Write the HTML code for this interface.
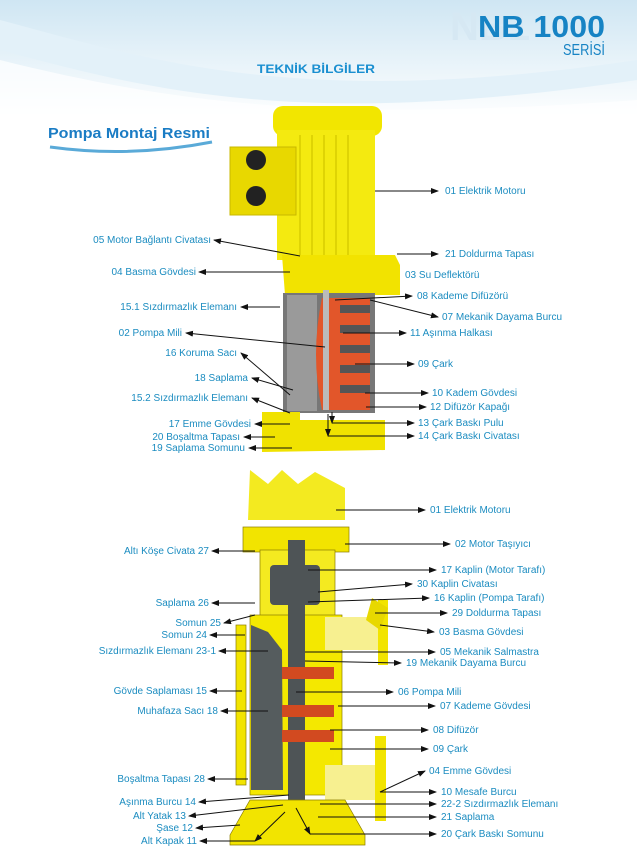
<!DOCTYPE html>
<html><head><meta charset="utf-8"><style>
body{margin:0;width:637px;height:851px;overflow:hidden;background:#fff;font-family:"Liberation Sans",sans-serif}
svg{display:block}
.l{font-family:"Liberation Sans",sans-serif;font-size:10px;fill:#1b8cc0}
</style></head><body>
<svg width="637" height="851" viewBox="0 0 637 851" xmlns="http://www.w3.org/2000/svg">
<defs>
<linearGradient id="bg" x1="0" y1="0" x2="0" y2="1"><stop offset="0" stop-color="#cfe6f3"/><stop offset="1" stop-color="#fff"/></linearGradient>
<marker id="a" markerWidth="8" markerHeight="6" refX="7" refY="3" orient="auto"><path d="M0,0L8,3L0,6z" fill="#111"/></marker>
</defs>
<rect width="637" height="120" fill="url(#bg)"/>
<path d="M0,20 C150,60 300,110 637,60 L637,80 C300,130 150,90 0,50z" fill="#e3f1f9"/>
<path d="M0,60 C200,110 350,120 637,100 L637,120 L0,120z" fill="#fff" opacity=".7"/>
<text x="450" y="40" font-size="40" font-weight="bold" fill="#d6e8f3" font-family="Liberation Sans">NB1</text>
<text x="478" y="37" font-size="31" font-weight="bold" fill="#1683c4" font-family="Liberation Sans" textLength="127" lengthAdjust="spacingAndGlyphs">NB 1000</text>
<text x="563" y="55" font-size="16" fill="#1683c4" font-family="Liberation Sans" textLength="42" lengthAdjust="spacingAndGlyphs">SERİSİ</text>
<text x="257" y="73" font-size="12" font-weight="bold" fill="#1a8fd0" font-family="Liberation Sans" textLength="118" lengthAdjust="spacingAndGlyphs">TEKNİK BİLGİLER</text>
<text x="48" y="138" font-size="15" font-weight="bold" fill="#1a7cc4" font-family="Liberation Sans" textLength="162" lengthAdjust="spacingAndGlyphs">Pompa Montaj Resmi</text>
<path d="M50,147 Q130,158 212,142" stroke="#5aaad8" stroke-width="3" fill="none"/>

<!-- top pump -->
<rect x="273" y="106" width="109" height="30" rx="10" fill="#f2e600"/>
<rect x="277" y="130" width="98" height="130" fill="#f4ea10"/>
<g stroke="#d8cc00" stroke-width="1.5"><line x1="300" y1="135" x2="300" y2="255"/><line x1="312" y1="135" x2="312" y2="255"/><line x1="324" y1="135" x2="324" y2="255"/><line x1="336" y1="135" x2="336" y2="255"/><line x1="348" y1="135" x2="348" y2="255"/></g>
<rect x="230" y="147" width="66" height="68" fill="#e8d800" stroke="#c8b800"/>
<circle cx="256" cy="160" r="10" fill="#222"/><circle cx="256" cy="196" r="10" fill="#222"/>
<path d="M282,255 L395,255 L400,265 L400,295 L285,295z" fill="#f2e300"/>
<rect x="283" y="293" width="92" height="120" fill="#777"/>
<rect x="287" y="295" width="30" height="116" fill="#9a9a9a"/>
<path d="M322,298 L370,298 L370,410 L322,410 Q310,355 322,298z" fill="#e2562a"/>
<g fill="#555"><rect x="340" y="305" width="30" height="8"/><rect x="340" y="325" width="30" height="8"/><rect x="340" y="345" width="30" height="8"/><rect x="340" y="365" width="30" height="8"/><rect x="340" y="385" width="30" height="8"/></g>
<rect x="323" y="290" width="6" height="120" fill="#bbb"/>
<path d="M262,412 L300,412 L300,420 L385,420 L385,450 L262,452z" fill="#f0e200"/>

<!-- bottom pump -->
<path d="M250,470 L268,484 L282,470 L298,484 L315,472 L345,488 L345,520 L248,520z" fill="#f3ea20"/>
<rect x="243" y="527" width="106" height="25" fill="#f2e400" stroke="#8a7c00" stroke-width=".7"/>
<rect x="260" y="550" width="75" height="67" fill="#f4ea20" stroke="#8a7c00" stroke-width=".7"/>
<rect x="250" y="615" width="92" height="180" fill="#f4e800" stroke="#8a7c00" stroke-width=".7"/>
<path d="M251,625 L268,632 L282,650 L283,790 L251,790z" fill="#555c5e"/>
<rect x="325" y="617" width="58" height="33" fill="#f7f090"/>
<rect x="378" y="600" width="10" height="65" fill="#f2e400"/>
<path d="M372,598 L388,608 L380,630 L366,620z" fill="#e8d800"/>
<rect x="325" y="765" width="55" height="35" fill="#f7f090"/>
<rect x="375" y="736" width="11" height="85" fill="#f2e400"/>
<rect x="236" y="625" width="10" height="160" fill="#f2e400" stroke="#8a7c00" stroke-width=".7"/>
<rect x="270" y="565" width="50" height="40" rx="4" fill="#4e5456"/>
<rect x="288" y="540" width="17" height="262" fill="#4e5456"/>
<rect x="282" y="667" width="52" height="12" fill="#d24a20"/><rect x="282" y="705" width="52" height="12" fill="#d24a20"/><rect x="282" y="730" width="52" height="12" fill="#d24a20"/>
<path d="M230,835 L250,800 L345,800 L365,835 L365,845 L230,845z" fill="#f2e400" stroke="#8a7c00" stroke-width=".7"/>

<g stroke="#111" stroke-width="1" fill="none" marker-end="url(#a)">
<line x1="300" y1="256" x2="214" y2="240"/>
<line x1="290" y1="272" x2="199" y2="272"/>
<line x1="280" y1="307" x2="241" y2="307"/>
<line x1="325" y1="347" x2="186" y2="333"/>
<line x1="290" y1="395" x2="241" y2="353"/>
<line x1="293" y1="390" x2="252" y2="378"/>
<line x1="290" y1="413" x2="252" y2="398"/>
<line x1="290" y1="424" x2="255" y2="424"/>
<line x1="275" y1="437" x2="244" y2="437"/>
<line x1="292" y1="448" x2="249" y2="448"/>
<line x1="375" y1="191" x2="438" y2="191"/>
<line x1="397" y1="254" x2="438" y2="254"/>
<line x1="335" y1="300" x2="412" y2="296"/>
<line x1="370" y1="300" x2="438" y2="317"/>
<line x1="343" y1="333" x2="406" y2="333"/>
<line x1="355" y1="364" x2="414" y2="364"/>
<line x1="365" y1="393" x2="428" y2="393"/>
<line x1="366" y1="407" x2="426" y2="407"/>
<line x1="332" y1="412" x2="332" y2="423" /><line x1="332" y1="423" x2="414" y2="423"/>
<line x1="328" y1="414" x2="328" y2="436" /><line x1="328" y1="436" x2="414" y2="436"/>
<line x1="336" y1="510" x2="425" y2="510"/>
<line x1="345" y1="544" x2="450" y2="544"/>
<line x1="308" y1="570" x2="436" y2="570"/>
<line x1="318" y1="592" x2="412" y2="584"/>
<line x1="308" y1="602" x2="429" y2="598"/>
<line x1="375" y1="613" x2="447" y2="613"/>
<line x1="380" y1="625" x2="434" y2="632"/>
<line x1="305" y1="652" x2="435" y2="652"/>
<line x1="305" y1="661" x2="401" y2="663"/>
<line x1="296" y1="692" x2="393" y2="692"/>
<line x1="338" y1="706" x2="435" y2="706"/>
<line x1="330" y1="730" x2="428" y2="730"/>
<line x1="330" y1="749" x2="428" y2="749"/>
<line x1="380" y1="792" x2="425" y2="771"/>
<line x1="380" y1="792" x2="436" y2="792"/>
<line x1="320" y1="804" x2="436" y2="804"/>
<line x1="318" y1="817" x2="436" y2="817"/>
<line x1="296" y1="808" x2="310" y2="834"/><line x1="310" y1="834" x2="436" y2="834"/>
<line x1="255" y1="551" x2="212" y2="551"/>
<line x1="255" y1="603" x2="212" y2="603"/>
<line x1="255" y1="615" x2="224" y2="623"/>
<line x1="245" y1="635" x2="210" y2="635"/>
<line x1="268" y1="651" x2="219" y2="651"/>
<line x1="242" y1="691" x2="210" y2="691"/>
<line x1="268" y1="711" x2="221" y2="711"/>
<line x1="248" y1="779" x2="208" y2="779"/>
<line x1="289" y1="795" x2="199" y2="802"/>
<line x1="283" y1="805" x2="189" y2="816"/>
<line x1="240" y1="825" x2="196" y2="828"/>
<line x1="285" y1="812" x2="255" y2="841"/><line x1="255" y1="841" x2="200" y2="841"/>
</g>

<g class="l" text-anchor="end">
<text x="211" y="243">05 Motor Bağlantı Civatası</text>
<text x="196" y="275">04 Basma Gövdesi</text>
<text x="237" y="310">15.1 Sızdırmazlık Elemanı</text>
<text x="182" y="336">02 Pompa Mili</text>
<text x="237" y="356">16 Koruma Sacı</text>
<text x="248" y="381">18 Saplama</text>
<text x="248" y="401">15.2 Sızdırmazlık Elemanı</text>
<text x="251" y="427">17 Emme Gövdesi</text>
<text x="240" y="440">20 Boşaltma Tapası</text>
<text x="245" y="451">19 Saplama Somunu</text>
<text x="209" y="554">Altı Köşe Civata 27</text>
<text x="209" y="606">Saplama 26</text>
<text x="221" y="626">Somun 25</text>
<text x="207" y="638">Somun 24</text>
<text x="216" y="654">Sızdırmazlık Elemanı 23-1</text>
<text x="207" y="694">Gövde Saplaması 15</text>
<text x="218" y="714">Muhafaza Sacı 18</text>
<text x="205" y="782">Boşaltma Tapası 28</text>
<text x="196" y="805">Aşınma Burcu 14</text>
<text x="186" y="819">Alt Yatak 13</text>
<text x="193" y="831">Şase 12</text>
<text x="197" y="844">Alt Kapak 11</text>
</g>
<g class="l">
<text x="445" y="194">01 Elektrik Motoru</text>
<text x="445" y="257">21 Doldurma Tapası</text>
<text x="405" y="278">03 Su Deflektörü</text>
<text x="417" y="299">08 Kademe Difüzörü</text>
<text x="442" y="320">07 Mekanik Dayama Burcu</text>
<text x="410" y="336">11 Aşınma Halkası</text>
<text x="418" y="367">09 Çark</text>
<text x="432" y="396">10 Kadem Gövdesi</text>
<text x="430" y="410">12 Difüzör Kapağı</text>
<text x="418" y="426">13 Çark Baskı Pulu</text>
<text x="418" y="439">14 Çark Baskı Civatası</text>
<text x="430" y="513">01 Elektrik Motoru</text>
<text x="455" y="547">02 Motor Taşıyıcı</text>
<text x="441" y="573">17 Kaplin (Motor Tarafı)</text>
<text x="417" y="587">30 Kaplin Civatası</text>
<text x="434" y="601">16 Kaplin (Pompa Tarafı)</text>
<text x="452" y="616">29 Doldurma Tapası</text>
<text x="439" y="635">03 Basma Gövdesi</text>
<text x="440" y="655">05 Mekanik Salmastra</text>
<text x="406" y="666">19 Mekanik Dayama Burcu</text>
<text x="398" y="695">06 Pompa Mili</text>
<text x="440" y="709">07 Kademe Gövdesi</text>
<text x="433" y="733">08 Difüzör</text>
<text x="433" y="752">09 Çark</text>
<text x="429" y="774">04 Emme Gövdesi</text>
<text x="441" y="795">10 Mesafe Burcu</text>
<text x="441" y="807">22-2 Sızdırmazlık Elemanı</text>
<text x="441" y="820">21 Saplama</text>
<text x="441" y="837">20 Çark Baskı Somunu</text>
</g>
</svg>
</body></html>
